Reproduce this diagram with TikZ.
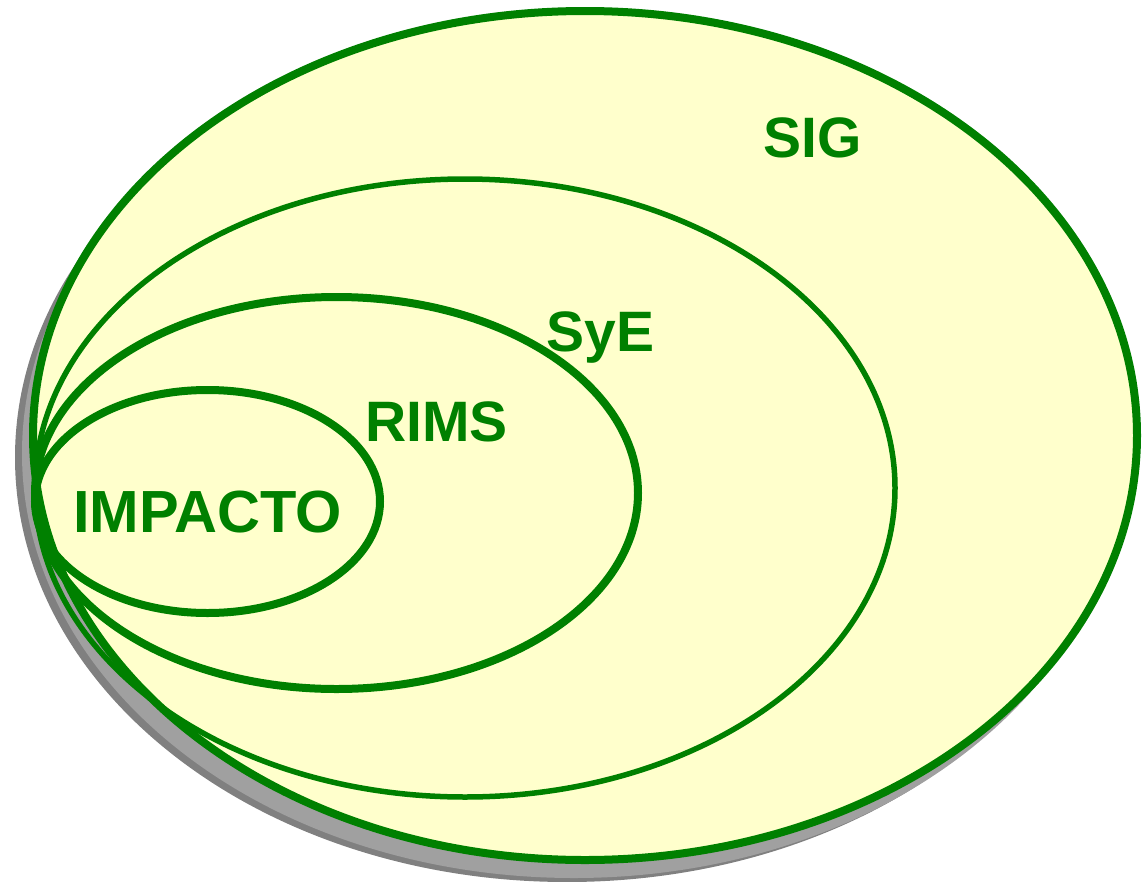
\documentclass[tikz,border=0pt]{standalone}
\usepackage{fontspec}
\setmainfont{Liberation Sans}
\definecolor{vgreen}{RGB}{0,128,0}
\definecolor{vyellow}{RGB}{255,255,204}
\definecolor{shdark}{RGB}{128,128,128}
\definecolor{shlight}{RGB}{160,160,160}
\tikzset{
  ring/.style={draw=vgreen, line width=8pt},
  thinring/.style={draw=vgreen, line width=5.5pt},
  lbl/.style={text=vgreen, font=\fontsize{57}{60}\selectfont\bfseries, inner sep=0pt, anchor=base}
}
\begin{document}
\begin{tikzpicture}[x=1pt,y=-1pt]
\useasboundingbox (0,0) rectangle (1143,881);
% shadow
\fill[shdark] (585-18,435.5+22) ellipse [x radius=552, y radius=424.5];
\fill[shlight] (585-11,435.5+18) ellipse [x radius=552, y radius=424.5];
% outer SIG
\filldraw[ring, fill=vyellow] (585,435.5) ellipse [x radius=552, y radius=424.5];
% SyE
\draw[thinring] (465,488) ellipse [x radius=430, y radius=309];
% RIMS
\draw[ring] (336.5,493) ellipse [x radius=301.5, y radius=196];
% IMPACTO
\draw[ring] (207.5,501.5) ellipse [x radius=172.5, y radius=111.5];
% labels
\node[lbl] (sig) at (813,157) {SIG};
\node[lbl] (sye) at (600.5,351) {SyE};
\node[lbl] (rims) at (436.5,441) {RIMS};
\node[lbl, font=\fontsize{59.5}{62}\selectfont\bfseries] (impacto) at (207.5,532) {IMPACTO};
\end{tikzpicture}
\end{document}
